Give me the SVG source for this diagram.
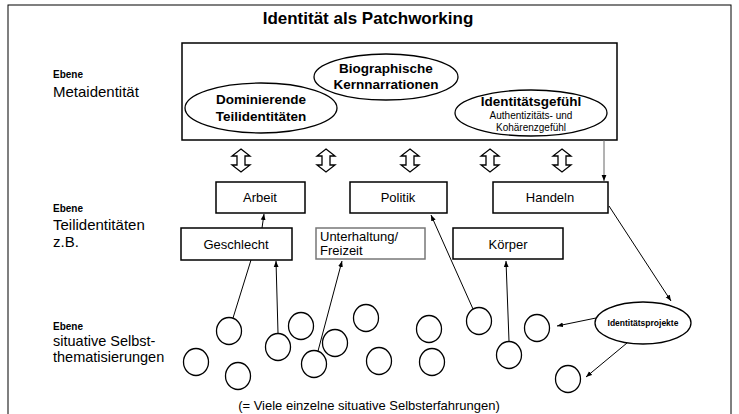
<svg xmlns="http://www.w3.org/2000/svg" width="739" height="414" viewBox="0 0 739 414">
<defs>
<marker id="ah" viewBox="0 0 10 10" refX="10" refY="5" markerWidth="6" markerHeight="6" orient="auto" markerUnits="userSpaceOnUse">
<path d="M0,1 L10,5 L0,9 Z" fill="#000"/>
</marker>
<style>
text{font-family:"Liberation Sans",Arial,sans-serif;fill:#000}
.b{font-weight:bold}
.box{fill:#fff;stroke:#000;stroke-width:1.5}
.ell{fill:#fff;stroke:#000;stroke-width:1.3}
.c{fill:#fff;stroke:#000;stroke-width:1.3}
.ln{stroke:#000;stroke-width:1;fill:none}
.arr{stroke:#000;stroke-width:1;fill:none;marker-end:url(#ah)}
.dbl{fill:#fff;stroke:#000;stroke-width:1.3;stroke-linejoin:miter}
</style>
</defs>
<rect x="0" y="0" width="739" height="414" fill="#fff"/>
<rect x="8" y="5" width="723" height="420" fill="none" stroke="#000" stroke-width="1"/>
<text x="368" y="24" class="b" font-size="17" text-anchor="middle">Identität als Patchworking</text>

<g id="labels">
<text x="53" y="78" class="b" font-size="10">Ebene</text>
<text x="53" y="97" font-size="15">Metaidentität</text>
<text x="53" y="212" class="b" font-size="10">Ebene</text>
<text x="53" y="230" font-size="15">Teilidentitäten</text>
<text x="53" y="247" font-size="15">z.B.</text>
<text x="53" y="330" class="b" font-size="10">Ebene</text>
<text x="53" y="346" font-size="14.5">situative Selbst-</text>
<text x="53" y="362" font-size="14.5">thematisierungen</text>
<text x="369" y="410" font-size="13" text-anchor="middle">(= Viele einzelne situative Selbsterfahrungen)</text>
</g>

<g id="meta">
<rect class="box" x="182" y="43" width="435" height="97" stroke-width="1.8"/>
</g>
<g id="biographische">
<ellipse class="ell" cx="386" cy="77" rx="72" ry="23"/>
<text x="386" y="73" class="b" font-size="13.5" text-anchor="middle">Biographische</text>
<text x="386" y="89" class="b" font-size="13.5" text-anchor="middle">Kernnarrationen</text>
</g>
<g id="dominierende">
<ellipse class="ell" cx="261" cy="108" rx="76" ry="25"/>
<text x="261" y="104" class="b" font-size="13.5" text-anchor="middle">Dominierende</text>
<text x="261" y="121" class="b" font-size="13.5" text-anchor="middle">Teilidentitäten</text>
</g>
<g id="gefuehl">
<ellipse class="ell" cx="531" cy="113" rx="76" ry="23"/>
<text x="531" y="106" class="b" font-size="13.5" text-anchor="middle">Identitätsgefühl</text>
<text x="531" y="119" font-size="10" text-anchor="middle">Authentizitäts- und</text>
<text x="531" y="131" font-size="10" text-anchor="middle">Kohärenzgefühl</text>
</g>

<g id="doublearrows">
<path class="dbl" d="M241,149 L250,156 L245,156 L245,165 L250,165 L241,172 L232,165 L237,165 L237,156 L232,156 Z"/>
<path class="dbl" d="M326,149 L335,156 L330,156 L330,165 L335,165 L326,172 L317,165 L322,165 L322,156 L317,156 Z"/>
<path class="dbl" d="M410,149 L419,156 L414,156 L414,165 L419,165 L410,172 L401,165 L406,165 L406,156 L401,156 Z"/>
<path class="dbl" d="M490,149 L499,156 L494,156 L494,165 L499,165 L490,172 L481,165 L486,165 L486,156 L481,156 Z"/>
<path class="dbl" d="M562,149 L571,156 L566,156 L566,165 L571,165 L562,172 L553,165 L558,165 L558,156 L553,156 Z"/>
</g>

<g id="arbeit">
<rect class="box" x="216" y="182" width="89" height="31"/>
<text x="260" y="202" font-size="13" text-anchor="middle">Arbeit</text>
</g>
<g id="politik">
<rect class="box" x="350" y="182" width="97" height="31"/>
<text x="398" y="202" font-size="13" text-anchor="middle">Politik</text>
</g>
<g id="handeln">
<rect class="box" x="493" y="182" width="115" height="31"/>
<text x="550" y="202" font-size="13" text-anchor="middle">Handeln</text>
</g>
<g id="geschlecht">
<rect class="box" x="181" y="228" width="111" height="32"/>
<text x="236" y="249" font-size="13" text-anchor="middle">Geschlecht</text>
</g>
<g id="unterhaltung">
<rect x="316" y="228" width="109" height="31" fill="#fff" stroke="#777" stroke-width="1.5"/>
<text x="320" y="241" font-size="13">Unterhaltung/</text>
<text x="320" y="255" font-size="13">Freizeit</text>
</g>
<g id="koerper">
<rect class="box" x="453" y="228" width="110" height="31"/>
<text x="508" y="249" font-size="13" text-anchor="middle">Körper</text>
</g>

<g id="projekte">
<ellipse class="ell" cx="643" cy="323" rx="48" ry="21"/>
<text x="643" y="326" class="b" font-size="8.5" text-anchor="middle">Identitätsprojekte</text>
</g>

<g id="situations">
<ellipse class="c" cx="229" cy="331" rx="12.5" ry="13.5"/>
<ellipse class="c" cx="301" cy="326" rx="12.5" ry="13.5"/>
<ellipse class="c" cx="366" cy="318" rx="12.5" ry="13.5"/>
<ellipse class="c" cx="278" cy="347" rx="12.5" ry="13.5"/>
<ellipse class="c" cx="335" cy="343" rx="12.5" ry="13.5"/>
<ellipse class="c" cx="429" cy="329" rx="12.5" ry="13.5"/>
<ellipse class="c" cx="479" cy="321" rx="12.5" ry="13.5"/>
<ellipse class="c" cx="537" cy="328" rx="12.5" ry="13.5"/>
<ellipse class="c" cx="196" cy="362" rx="12.5" ry="13.5"/>
<ellipse class="c" cx="238" cy="376" rx="12.5" ry="13.5"/>
<ellipse class="c" cx="314" cy="364" rx="12.5" ry="13.5"/>
<ellipse class="c" cx="379" cy="361" rx="12.5" ry="13.5"/>
<ellipse class="c" cx="432" cy="362" rx="12.5" ry="13.5"/>
<ellipse class="c" cx="509" cy="355" rx="12.5" ry="13.5"/>
<ellipse class="c" cx="568" cy="379" rx="12.5" ry="13.5"/>
</g>

<g id="connectors">
<line x1="604" y1="140" x2="604" y2="181" stroke="#666" stroke-width="1" marker-end="url(#ah)"/>
<line class="arr" x1="262" y1="228" x2="264" y2="214"/>
<line class="ln" x1="251" y1="260" x2="233" y2="318"/>
<line class="arr" x1="278" y1="333" x2="276" y2="261"/>
<line class="arr" x1="318" y1="351" x2="342" y2="261"/>
<line class="arr" x1="473" y1="309" x2="431" y2="215"/>
<line class="arr" x1="509" y1="341" x2="506" y2="261"/>
<line class="arr" x1="609" y1="206" x2="671" y2="301"/>
<line class="arr" x1="596" y1="318" x2="557" y2="326"/>
<line class="arr" x1="627" y1="343" x2="586" y2="377"/>
</g>
</svg>
